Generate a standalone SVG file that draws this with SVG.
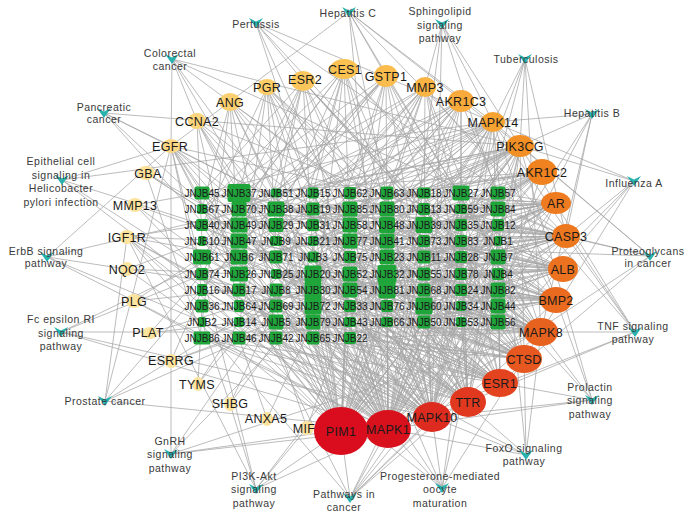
<svg xmlns="http://www.w3.org/2000/svg" xmlns:xlink="http://www.w3.org/1999/xlink" width="700" height="524" viewBox="0 0 700 524">
<style>
.e path{fill:none;stroke:#a6a6a6;stroke-width:0.75}
.c rect{fill:#1fa53a;rx:2px}
.c text{font-family:"Liberation Sans",Arial,sans-serif;font-size:10px;fill:#1a1a1a;text-anchor:middle}
.g text{font-family:"Liberation Sans",Arial,sans-serif;font-size:12.5px;fill:#1a1a1a;text-anchor:middle;letter-spacing:0.3px}
.p use{fill:#27b2ae}
.p text{font-family:"Liberation Sans",Arial,sans-serif;font-size:10.5px;fill:#3a3a3a;text-anchor:middle;letter-spacing:0.5px}
</style>
<defs><path id="v" d="M-7 -5L0 -1.5L7 -5L0 5Z"/></defs>
<rect width="700" height="524" fill="#fff"/>
<g id="connectors" class="e">
<path d="M341 431L202 193M341 431L276 193M341 431L350 193M341 431L424 193M341 431L498 193M341 431L239 209M341 431L313 209M341 431L387 209M341 431L461 209M341 431L202 225M341 431L276 225M341 431L350 225M341 431L424 225M341 431L498 225M341 431L239 241M341 431L313 241M341 431L387 241M341 431L461 241M341 431L202 257M341 431L276 257M341 431L350 257M341 431L424 257M341 431L498 257M341 431L239 274M341 431L313 274M341 431L387 274M341 431L461 274M341 431L202 290M341 431L276 290M341 431L424 290M341 431L498 290M341 431L239 306M341 431L313 306M341 431L387 306M341 431L461 306M341 431L202 322M341 431L350 322M341 431L424 322M341 431L239 338M341 431L313 338"/>
<path d="M388 429L239 193M388 429L313 193M388 429L387 193M388 429L461 193M388 429L202 209M388 429L276 209M388 429L350 209M388 429L424 209M388 429L498 209M388 429L239 225M388 429L313 225M388 429L387 225M388 429L461 225M388 429L202 241M388 429L276 241M388 429L350 241M388 429L424 241M388 429L498 241M388 429L239 257M388 429L313 257M388 429L387 257M388 429L461 257M388 429L202 274M388 429L276 274M388 429L350 274M388 429L424 274M388 429L498 274M388 429L239 290M388 429L313 290M388 429L387 290M388 429L461 290M388 429L202 306M388 429L276 306M388 429L350 306M388 429L424 306M388 429L498 306M388 429L239 322M388 429L313 322M388 429L387 322M388 429L461 322M388 429L202 338M388 429L276 338M388 429L350 338"/>
<path d="M432 417L202 193M432 417L313 193M432 417L461 193M432 417L276 209M432 417L424 209M432 417L239 225M432 417L387 225M432 417L498 225M432 417L202 241M432 417L350 241M432 417L461 241M432 417L276 257M432 417L424 257M432 417L239 274M432 417L387 274M432 417L498 274M432 417L202 290M432 417L350 290M432 417L461 290M432 417L276 306M432 417L424 306M432 417L239 322M432 417L387 322M432 417L498 322M432 417L276 338M432 417L387 193M432 417L350 209M432 417L313 257M432 417L202 274M432 417L461 274M432 417L313 290M432 417L202 338"/>
<path d="M468 402L239 193M468 402L350 193M468 402L498 193M468 402L202 209M468 402L313 209M468 402L461 209M468 402L276 225M468 402L424 225M468 402L239 241M468 402L387 241M468 402L498 241M468 402L202 257M468 402L350 257M468 402L461 257M468 402L313 274M468 402L424 274M468 402L239 290M468 402L387 290M468 402L498 290M468 402L313 306M468 402L461 306M468 402L202 322M468 402L350 322M468 402L461 322M468 402L202 338M468 402L424 193M468 402L387 225M468 402L276 274M468 402L424 322M468 402L313 338M468 402L239 209"/>
<path d="M500 383L276 193M500 383L387 193M500 383L239 209M500 383L350 209M500 383L498 209M500 383L202 225M500 383L313 225M500 383L461 225M500 383L276 241M500 383L424 241M500 383L239 257M500 383L387 257M500 383L498 257M500 383L202 274M500 383L350 274M500 383L276 290M500 383L424 290M500 383L313 306M500 383L498 306M500 383L276 322M500 383L424 322M500 383L313 338M500 383L461 193M500 383L202 241M500 383L350 290M500 383L461 290M500 383L239 306M500 383L387 322M500 383L202 338"/>
<path d="M524 359L313 193M524 359L424 193M524 359L276 209M524 359L387 209M524 359L239 225M524 359L350 225M524 359L498 225M524 359L313 241M524 359L461 241M524 359L239 257M524 359L424 257M524 359L276 274M524 359L461 274M524 359L313 290M524 359L498 290M524 359L350 306M524 359L239 322M524 359L461 322M524 359L350 338M524 359L202 193M524 359L350 209M524 359L424 225M524 359L276 257M524 359L387 274M524 359L202 306M524 359L424 322M524 359L276 338"/>
<path d="M541 332L350 193M541 332L461 193M541 332L313 209M541 332L424 209M541 332L276 225M541 332L387 225M541 332L202 241M541 332L350 241M541 332L276 257M541 332L461 257M541 332L313 274M541 332L498 274M541 332L239 290M541 332L387 290M541 332L424 306M541 332L313 322M541 332L498 322M541 332L239 193M541 332L387 209M541 332L202 257M541 332L424 274M541 332L276 306M541 332L461 306M541 332L350 338M541 332L239 322"/>
<path d="M556 300L387 193M556 300L498 193M556 300L350 209M556 300L461 209M556 300L313 225M556 300L424 225M556 300L239 241M556 300L387 241M556 300L313 257M556 300L498 257M556 300L350 274M556 300L202 290M556 300L424 290M556 300L276 306M556 300L387 322M556 300L239 338M556 300L239 193M556 300L313 209M556 300L202 241M556 300L461 241M556 300L276 274M556 300L350 290M556 300L461 322M556 300L313 338"/>
<path d="M563 269L424 193M563 269L276 193M563 269L387 209M563 269L498 209M563 269L350 225M563 269L461 225M563 269L276 241M563 269L424 241M563 269L350 257M563 269L239 274M563 269L461 274M563 269L313 290M563 269L461 306M563 269L350 322M563 269L202 306M563 269L202 193M563 269L313 209M563 269L239 225M563 269L387 257M563 269L498 241M563 269L276 290M563 269L424 322M563 269L239 338"/>
<path d="M566 236L461 193M566 236L313 193M566 236L424 209M566 236L202 209M566 236L387 225M566 236L498 225M566 236L313 241M566 236L461 241M566 236L387 257M566 236L276 274M566 236L424 274M566 236L350 290M566 236L239 306M566 236L424 322M566 236L202 193M566 236L276 209M566 236L239 241M566 236L350 257M566 236L498 290M566 236L313 322M566 236L276 338M566 236L387 274M566 236L461 306"/>
<path d="M556 203L498 193M556 203L350 193M556 203L461 209M556 203L239 209M556 203L424 225M556 203L276 225M556 203L350 241M556 203L498 241M556 203L424 257M556 203L313 274M556 203L461 290M556 203L387 306M556 203L276 322M556 203L202 225M556 203L387 193M556 203L313 241M556 203L239 257M556 203L424 290M556 203L498 322M556 203L350 306M556 203L202 338"/>
<path d="M542 172L387 193M542 172L239 193M542 172L498 209M542 172L313 209M542 172L461 225M542 172L202 225M542 172L424 241M542 172L387 257M542 172L461 274M542 172L350 290M542 172L498 306M542 172L313 338M542 172L276 225M542 172L350 241M542 172L202 274M542 172L424 306M542 172L239 322M542 172L276 290"/>
<path d="M520 146L424 193M520 146L276 193M520 146L350 209M520 146L461 225M520 146L239 225M520 146L387 241M520 146L498 257M520 146L313 257M520 146L424 274M520 146L276 290M520 146L461 306M520 146L350 322M520 146L202 209M520 146L313 241M520 146L239 274M520 146L387 306M520 146L276 338M520 146L498 322"/>
<path d="M493 122L461 193M493 122L313 193M493 122L387 209M493 122L239 209M493 122L424 225M493 122L350 241M493 122L498 274M493 122L276 257M493 122L387 290M493 122L424 306M493 122L202 193M493 122L276 241M493 122L461 257M493 122L239 306M493 122L350 322"/>
<path d="M461 101L498 193M461 101L350 193M461 101L424 209M461 101L276 209M461 101L313 225M461 101L461 241M461 101L239 241M461 101L387 257M461 101L350 290M461 101L461 322M461 101L202 225M461 101L313 274M461 101L424 290M461 101L276 322M461 101L239 338"/>
<path d="M425 87L387 193M425 87L239 193M425 87L461 209M425 87L313 209M425 87L350 225M425 87L424 241M425 87L276 257M425 87L498 274M425 87L313 306M425 87L202 241M425 87L461 290M425 87L350 322M425 87L239 274"/>
<path d="M386 76L424 193M386 76L276 193M386 76L350 209M386 76L202 209M386 76L461 225M386 76L387 241M386 76L239 274M386 76L313 290M386 76L424 306M386 76L239 225M386 76L498 257M386 76L202 290M386 76L350 338"/>
<path d="M344 69L313 193M344 69L461 193M344 69L239 209M344 69L387 209M344 69L276 225M344 69L350 241M344 69L498 241M344 69L202 257M344 69L387 290M344 69L202 209M344 69L424 257M344 69L276 306M344 69L313 322"/>
<path d="M303 81L202 193M303 81L350 193M303 81L276 209M303 81L424 209M303 81L239 241M303 81L313 257M303 81L461 257M303 81L350 306M303 81L387 241M303 81L202 274M303 81L498 290M303 81L239 322"/>
<path d="M267 87L239 193M267 87L387 193M267 87L202 225M267 87L313 225M267 87L276 241M267 87L424 257M267 87L239 290M267 87L350 209M267 87L461 274M267 87L313 338"/>
<path d="M230 102L276 193M230 102L202 209M230 102L350 225M230 102L239 257M230 102L313 274M230 102L202 322M230 102L424 241M230 102L276 306M230 102L387 322"/>
<path d="M197 121L239 193M197 121L313 209M197 121L202 241M197 121L276 274M197 121L350 290M197 121L461 225M197 121L239 306"/>
<path d="M171 146L202 193M171 146L276 225M171 146L239 241M171 146L202 290M171 146L313 306M171 146L387 257M171 146L276 338"/>
<path d="M146 173L202 209M146 173L239 225M146 173L276 257M146 173L202 338M135 205L202 193M135 205L239 241M135 205L202 274M135 205L276 306M127 237L202 225M127 237L239 257M127 237L202 306M127 237L276 322M127 269L202 241M127 269L239 274M127 269L202 322M134 301L202 257M134 301L239 290M134 301L202 338M150 333L202 274M150 333L239 306M150 333L239 322M171 361L202 290M171 361L239 338M171 361L276 322M198 384L202 306M198 384L276 290M198 384L239 322M230 404L202 322M230 404L276 306M230 404L313 290M267 419L239 338M267 419L313 322M307 428L276 338M307 428L350 306"/>
<path d="M172 59L171 146M172 59L388 429M172 59L432 417M172 59L541 332M172 59L520 146M172 59L566 236M172 59L197 121"/>
<path d="M256 23L388 429M256 23L432 417M256 23L541 332M256 23L493 122M256 23L566 236M256 23L303 81"/>
<path d="M349 12L171 146M349 12L388 429M349 12L432 417M349 12L541 332M349 12L520 146M349 12L566 236M349 12L493 122M349 12L386 76"/>
<path d="M442 24L388 429M442 24L432 417M442 24L541 332M442 24L520 146M442 24L493 122M442 24L425 87"/>
<path d="M525 59L388 429M525 59L432 417M525 59L541 332M525 59L493 122M525 59L566 236M525 59L520 146"/>
<path d="M592 114L388 429M592 114L432 417M592 114L541 332M592 114L566 236M592 114L520 146M592 114L493 122"/>
<path d="M634 181L388 429M634 181L432 417M634 181L541 332M634 181L493 122M634 181L520 146M634 181L566 236"/>
<path d="M650 256L388 429M650 256L493 122M650 256L520 146M650 256L566 236M650 256L500 383M650 256L171 146M650 256L127 237"/>
<path d="M635 332L388 429M635 332L432 417M635 332L541 332M635 332L493 122M635 332L566 236M635 332L520 146M635 332L425 87"/>
<path d="M592 400L388 429M592 400L432 417M592 400L541 332M592 400L493 122M592 400L520 146M592 400L500 383M592 400L303 81"/>
<path d="M526 455L388 429M526 455L432 417M526 455L541 332M526 455L493 122M526 455L520 146M526 455L171 146M526 455L127 237"/>
<path d="M442 488L388 429M442 488L432 417M442 488L541 332M442 488L493 122M442 488L520 146M442 488L127 237M442 488L267 87M442 488L197 121"/>
<path d="M350 498L388 429M350 498L432 417M350 498L541 332M350 498L520 146M350 498L566 236M350 498L171 146M350 498L127 237M350 498L556 203M350 498L556 300M350 498L341 431"/>
<path d="M256 489L171 146M256 489L127 237M256 489L388 429M256 489L520 146M256 489L341 431M256 489L230 404M256 489L307 428"/>
<path d="M171 454L171 146M171 454L388 429M171 454L432 417M171 454L541 332M171 454L493 122M171 454L425 87"/>
<path d="M105 401L556 203M105 401L171 146M105 401L127 237M105 401L388 429M105 401L520 146M105 401L386 76"/>
<path d="M61 332L388 429M61 332L432 417M61 332L541 332M61 332L493 122M61 332L520 146"/>
<path d="M47 257L171 146M47 257L388 429M47 257L432 417M47 257L541 332M47 257L520 146"/>
<path d="M62 180L171 146M62 180L388 429M62 180L432 417M62 180L541 332M62 180L493 122"/>
<path d="M104 113L171 146M104 113L388 429M104 113L432 417M104 113L541 332M104 113L520 146"/>
</g>
<g class="c">
<g id="JNJB45"><rect x="194.5" y="186.5" width="15" height="13"/><text x="202" y="196.6">JNJB45</text></g>
<g id="JNJB37"><rect x="227.5" y="184" width="23" height="18"/><text x="239" y="196.6">JNJB37</text></g>
<g id="JNJB51"><rect x="271" y="188.5" width="10" height="9"/><text x="276" y="196.6">JNJB51</text></g>
<g id="JNJB15"><rect x="307.5" y="187.5" width="11" height="11"/><text x="313" y="196.6">JNJB15</text></g>
<g id="JNJB62"><rect x="344" y="187" width="12" height="12"/><text x="350" y="196.6">JNJB62</text></g>
<g id="JNJB63"><rect x="380.5" y="186.5" width="13" height="13"/><text x="387" y="196.6">JNJB63</text></g>
<g id="JNJB18"><rect x="417.5" y="187.5" width="13" height="11"/><text x="424" y="196.6">JNJB18</text></g>
<g id="JNJB27"><rect x="452.5" y="185.5" width="17" height="15"/><text x="461" y="196.6">JNJB27</text></g>
<g id="JNJB57"><rect x="490.5" y="186.5" width="15" height="13"/><text x="498" y="196.6">JNJB57</text></g>
<g id="JNJB67"><rect x="197" y="204" width="10" height="10"/><text x="202" y="212.6">JNJB67</text></g>
<g id="JNJB70"><rect x="231.5" y="201.5" width="15" height="15"/><text x="239" y="212.6">JNJB70</text></g>
<g id="JNJB38"><rect x="267.5" y="201.5" width="17" height="15"/><text x="276" y="212.6">JNJB38</text></g>
<g id="JNJB19"><rect x="306.5" y="202.5" width="13" height="13"/><text x="313" y="212.6">JNJB19</text></g>
<g id="JNJB85"><rect x="342.5" y="201.5" width="15" height="15"/><text x="350" y="212.6">JNJB85</text></g>
<g id="JNJB80"><rect x="379.5" y="201.5" width="15" height="15"/><text x="387" y="212.6">JNJB80</text></g>
<g id="JNJB13"><rect x="418" y="203" width="12" height="12"/><text x="424" y="212.6">JNJB13</text></g>
<g id="JNJB59"><rect x="455" y="204" width="12" height="10"/><text x="461" y="212.6">JNJB59</text></g>
<g id="JNJB84"><rect x="490.5" y="201.5" width="15" height="15"/><text x="498" y="212.6">JNJB84</text></g>
<g id="JNJB40"><rect x="196" y="219" width="12" height="12"/><text x="202" y="228.6">JNJB40</text></g>
<g id="JNJB49"><rect x="230.5" y="217.5" width="17" height="15"/><text x="239" y="228.6">JNJB49</text></g>
<g id="JNJB29"><rect x="268.5" y="218" width="15" height="14"/><text x="276" y="228.6">JNJB29</text></g>
<g id="JNJB31"><rect x="307" y="219" width="12" height="12"/><text x="313" y="228.6">JNJB31</text></g>
<g id="JNJB58"><rect x="342.5" y="217.5" width="15" height="15"/><text x="350" y="228.6">JNJB58</text></g>
<g id="JNJB48"><rect x="379" y="217" width="16" height="16"/><text x="387" y="228.6">JNJB48</text></g>
<g id="JNJB39"><rect x="415.5" y="217" width="17" height="16"/><text x="424" y="228.6">JNJB39</text></g>
<g id="JNJB35"><rect x="455" y="219" width="12" height="12"/><text x="461" y="228.6">JNJB35</text></g>
<g id="JNJB12"><rect x="492" y="219" width="12" height="12"/><text x="498" y="228.6">JNJB12</text></g>
<g id="JNJB10"><rect x="198" y="236" width="8" height="10"/><text x="202" y="244.6">JNJB10</text></g>
<g id="JNJB47"><rect x="230.5" y="233.5" width="17" height="15"/><text x="239" y="244.6">JNJB47</text></g>
<g id="JNJB9"><rect x="270" y="236" width="12" height="10"/><text x="276" y="244.6">JNJB9</text></g>
<g id="JNJB21"><rect x="308" y="236" width="10" height="10"/><text x="313" y="244.6">JNJB21</text></g>
<g id="JNJB77"><rect x="342.5" y="233.5" width="15" height="15"/><text x="350" y="244.6">JNJB77</text></g>
<g id="JNJB41"><rect x="379.5" y="233.5" width="15" height="15"/><text x="387" y="244.6">JNJB41</text></g>
<g id="JNJB73"><rect x="418" y="235" width="12" height="12"/><text x="424" y="244.6">JNJB73</text></g>
<g id="JNJB83"><rect x="455" y="235" width="12" height="12"/><text x="461" y="244.6">JNJB83</text></g>
<g id="JNJB1"><rect x="494" y="236" width="8" height="10"/><text x="498" y="244.6">JNJB1</text></g>
<g id="JNJB61"><rect x="193" y="249.5" width="18" height="15"/><text x="202" y="260.6">JNJB61</text></g>
<g id="JNJB6"><rect x="230.5" y="249.5" width="17" height="15"/><text x="239" y="260.6">JNJB6</text></g>
<g id="JNJB71"><rect x="269.5" y="250.5" width="13" height="13"/><text x="276" y="260.6">JNJB71</text></g>
<g id="JNJB3"><rect x="307.5" y="251.5" width="11" height="11"/><text x="313" y="260.6">JNJB3</text></g>
<g id="JNJB75"><rect x="344" y="251" width="12" height="12"/><text x="350" y="260.6">JNJB75</text></g>
<g id="JNJB23"><rect x="379.5" y="249.5" width="15" height="15"/><text x="387" y="260.6">JNJB23</text></g>
<g id="JNJB11"><rect x="417.5" y="250.5" width="13" height="13"/><text x="424" y="260.6">JNJB11</text></g>
<g id="JNJB28"><rect x="455" y="251" width="12" height="12"/><text x="461" y="260.6">JNJB28</text></g>
<g id="JNJB7"><rect x="490.5" y="249.5" width="15" height="15"/><text x="498" y="260.6">JNJB7</text></g>
<g id="JNJB74"><rect x="196" y="268" width="12" height="12"/><text x="202" y="277.6">JNJB74</text></g>
<g id="JNJB26"><rect x="230" y="266.5" width="18" height="15"/><text x="239" y="277.6">JNJB26</text></g>
<g id="JNJB25"><rect x="271" y="269" width="10" height="10"/><text x="276" y="277.6">JNJB25</text></g>
<g id="JNJB20"><rect x="304.5" y="265.5" width="17" height="17"/><text x="313" y="277.6">JNJB20</text></g>
<g id="JNJB52"><rect x="342.5" y="266.5" width="15" height="15"/><text x="350" y="277.6">JNJB52</text></g>
<g id="JNJB32"><rect x="377.5" y="265" width="19" height="18"/><text x="387" y="277.6">JNJB32</text></g>
<g id="JNJB55"><rect x="417.5" y="267.5" width="13" height="13"/><text x="424" y="277.6">JNJB55</text></g>
<g id="JNJB78"><rect x="455" y="268" width="12" height="12"/><text x="461" y="277.6">JNJB78</text></g>
<g id="JNJB4"><rect x="492" y="268" width="12" height="12"/><text x="498" y="277.6">JNJB4</text></g>
<g id="JNJB16"><rect x="197" y="284" width="10" height="12"/><text x="202" y="293.6">JNJB16</text></g>
<g id="JNJB17"><rect x="232.5" y="283.5" width="13" height="13"/><text x="239" y="293.6">JNJB17</text></g>
<g id="JNJB8"><rect x="269.5" y="283.5" width="13" height="13"/><text x="276" y="293.6">JNJB8</text></g>
<g id="JNJB30"><rect x="304.5" y="281.5" width="17" height="17"/><text x="313" y="293.6">JNJB30</text></g>
<g id="JNJB54"><rect x="342.5" y="282.5" width="15" height="15"/><text x="350" y="293.6">JNJB54</text></g>
<g id="JNJB81"><rect x="378.5" y="281.5" width="17" height="17"/><text x="387" y="293.6">JNJB81</text></g>
<g id="JNJB68"><rect x="417.5" y="283.5" width="13" height="13"/><text x="424" y="293.6">JNJB68</text></g>
<g id="JNJB24"><rect x="455" y="284" width="12" height="12"/><text x="461" y="293.6">JNJB24</text></g>
<g id="JNJB82"><rect x="490.5" y="282.5" width="15" height="15"/><text x="498" y="293.6">JNJB82</text></g>
<g id="JNJB36"><rect x="195.5" y="299.5" width="13" height="13"/><text x="202" y="309.6">JNJB36</text></g>
<g id="JNJB64"><rect x="234" y="300" width="10" height="12"/><text x="239" y="309.6">JNJB64</text></g>
<g id="JNJB69"><rect x="269.5" y="299.5" width="13" height="13"/><text x="276" y="309.6">JNJB69</text></g>
<g id="JNJB72"><rect x="304.5" y="297.5" width="17" height="17"/><text x="313" y="309.6">JNJB72</text></g>
<g id="JNJB33"><rect x="344" y="300" width="12" height="12"/><text x="350" y="309.6">JNJB33</text></g>
<g id="JNJB76"><rect x="381" y="300" width="12" height="12"/><text x="387" y="309.6">JNJB76</text></g>
<g id="JNJB60"><rect x="415.5" y="297.5" width="17" height="17"/><text x="424" y="309.6">JNJB60</text></g>
<g id="JNJB34"><rect x="456" y="301" width="10" height="10"/><text x="461" y="309.6">JNJB34</text></g>
<g id="JNJB44"><rect x="490.5" y="298.5" width="15" height="15"/><text x="498" y="309.6">JNJB44</text></g>
<g id="JNJB2"><rect x="198" y="317" width="8" height="10"/><text x="202" y="325.6">JNJB2</text></g>
<g id="JNJB14"><rect x="234" y="317" width="10" height="10"/><text x="239" y="325.6">JNJB14</text></g>
<g id="JNJB5"><rect x="268.5" y="314.5" width="15" height="15"/><text x="276" y="325.6">JNJB5</text></g>
<g id="JNJB79"><rect x="305.5" y="314.5" width="15" height="15"/><text x="313" y="325.6">JNJB79</text></g>
<g id="JNJB43"><rect x="344" y="317" width="12" height="10"/><text x="350" y="325.6">JNJB43</text></g>
<g id="JNJB66"><rect x="381" y="317" width="12" height="10"/><text x="387" y="325.6">JNJB66</text></g>
<g id="JNJB50"><rect x="417.5" y="315.5" width="13" height="13"/><text x="424" y="325.6">JNJB50</text></g>
<g id="JNJB53"><rect x="456" y="317" width="10" height="10"/><text x="461" y="325.6">JNJB53</text></g>
<g id="JNJB56"><rect x="490.5" y="314.5" width="15" height="15"/><text x="498" y="325.6">JNJB56</text></g>
<g id="JNJB86"><rect x="193.5" y="331.5" width="17" height="13"/><text x="202" y="341.6">JNJB86</text></g>
<g id="JNJB46"><rect x="232.5" y="331.5" width="13" height="13"/><text x="239" y="341.6">JNJB46</text></g>
<g id="JNJB42"><rect x="269.5" y="331.5" width="13" height="13"/><text x="276" y="341.6">JNJB42</text></g>
<g id="JNJB65"><rect x="306.5" y="331.5" width="13" height="13"/><text x="313" y="341.6">JNJB65</text></g>
<g id="JNJB22"><rect x="344" y="332" width="12" height="12"/><text x="350" y="341.6">JNJB22</text></g>
</g>
<g class="g">
<g id="PIM1"><ellipse cx="341" cy="431" rx="27" ry="24" fill="#d90d1d"/><text x="341" y="435.5">PIM1</text></g>
<g id="MAPK1"><ellipse cx="388" cy="429" rx="23" ry="19" fill="#d9111d"/><text x="388" y="433.5">MAPK1</text></g>
<g id="MAPK10"><ellipse cx="432" cy="417" rx="19" ry="15" fill="#dd2c1f"/><text x="432" y="421.5">MAPK10</text></g>
<g id="TTR"><ellipse cx="468" cy="402" rx="18" ry="15" fill="#e1391f"/><text x="468" y="406.5">TTR</text></g>
<g id="ESR1"><ellipse cx="500" cy="383" rx="18" ry="14" fill="#e3441f"/><text x="500" y="387.5">ESR1</text></g>
<g id="CTSD"><ellipse cx="524" cy="359" rx="18" ry="14" fill="#e6581f"/><text x="524" y="363.5">CTSD</text></g>
<g id="MAPK8"><ellipse cx="541" cy="332" rx="17" ry="14" fill="#e8621f"/><text x="541" y="336.5">MAPK8</text></g>
<g id="BMP2"><ellipse cx="556" cy="300" rx="16" ry="13" fill="#ea6b1f"/><text x="556" y="304.5">BMP2</text></g>
<g id="ALB"><ellipse cx="563" cy="269" rx="15" ry="13" fill="#ec721f"/><text x="563" y="273.5">ALB</text></g>
<g id="CASP3"><ellipse cx="566" cy="236" rx="14" ry="12" fill="#ed771f"/><text x="566" y="240.5">CASP3</text></g>
<g id="AR"><ellipse cx="556" cy="203" rx="15" ry="11" fill="#ee7b1f"/><text x="556" y="207.5">AR</text></g>
<g id="AKR1C2"><ellipse cx="542" cy="172" rx="15" ry="13" fill="#f0821f"/><text x="542" y="176.5">AKR1C2</text></g>
<g id="PIK3CG"><ellipse cx="520" cy="146" rx="14" ry="11" fill="#f28f25"/><text x="520" y="150.5">PIK3CG</text></g>
<g id="MAPK14"><ellipse cx="493" cy="122" rx="12" ry="10" fill="#f6a332"/><text x="493" y="126.5">MAPK14</text></g>
<g id="AKR1C3"><ellipse cx="461" cy="101" rx="13" ry="11" fill="#f8ab3c"/><text x="461" y="105.5">AKR1C3</text></g>
<g id="MMP3"><ellipse cx="425" cy="87" rx="11" ry="10" fill="#f9b444"/><text x="425" y="91.5">MMP3</text></g>
<g id="GSTP1"><ellipse cx="386" cy="76" rx="12" ry="11" fill="#fabd4d"/><text x="386" y="80.5">GSTP1</text></g>
<g id="CES1"><ellipse cx="344" cy="69" rx="14" ry="10" fill="#fbc252"/><text x="345" y="73.5">CES1</text></g>
<g id="ESR2"><ellipse cx="303" cy="81" rx="12" ry="10" fill="#fbc65c"/><text x="305" y="83.5">ESR2</text></g>
<g id="PGR"><ellipse cx="267" cy="87" rx="10" ry="8" fill="#fccd68"/><text x="267" y="91.5">PGR</text></g>
<g id="ANG"><ellipse cx="230" cy="102" rx="11" ry="9" fill="#fcd070"/><text x="230" y="106.5">ANG</text></g>
<g id="CCNA2"><ellipse cx="197" cy="121" rx="9" ry="8" fill="#fcd57c"/><text x="197" y="125.5">CCNA2</text></g>
<g id="EGFR"><ellipse cx="171" cy="146" rx="9" ry="7" fill="#fdd884"/><text x="170" y="150.5">EGFR</text></g>
<g id="GBA"><ellipse cx="146" cy="173" rx="9" ry="7" fill="#fde196"/><text x="148" y="177.5">GBA</text></g>
<g id="MMP13"><ellipse cx="135" cy="205" rx="8" ry="7" fill="#fde49e"/><text x="135" y="209.5">MMP13</text></g>
<g id="IGF1R"><ellipse cx="127" cy="237" rx="8" ry="7" fill="#fde49e"/><text x="127" y="241.5">IGF1R</text></g>
<g id="NQO2"><ellipse cx="127" cy="269" rx="7" ry="7" fill="#fde49e"/><text x="127" y="273.5">NQO2</text></g>
<g id="PLG"><ellipse cx="134" cy="301" rx="8" ry="7" fill="#fde49e"/><text x="134" y="305.5">PLG</text></g>
<g id="PLAT"><ellipse cx="150" cy="333" rx="8" ry="6" fill="#fde49e"/><text x="148" y="337">PLAT</text></g>
<g id="ESRRG"><ellipse cx="171" cy="361" rx="7" ry="7" fill="#fde49e"/><text x="171" y="365">ESRRG</text></g>
<g id="TYMS"><ellipse cx="198" cy="384" rx="6" ry="7" fill="#fde49e"/><text x="197" y="388.5">TYMS</text></g>
<g id="SHBG"><ellipse cx="230" cy="404" rx="6" ry="7" fill="#fde49e"/><text x="230" y="408">SHBG</text></g>
<g id="ANXA5"><ellipse cx="267" cy="419" rx="6" ry="7" fill="#fde49e"/><text x="266" y="423">ANXA5</text></g>
<g id="MIF"><ellipse cx="307" cy="428" rx="7" ry="7" fill="#fde49e"/><text x="304" y="432.5">MIF</text></g>
</g>
<g class="p">
<g id="Pertussis"><use href="#v" x="256" y="23"/><text x="256" y="28">Pertussis</text></g>
<g id="HepatitisC"><use href="#v" x="349" y="12"/><text x="348" y="17">Hepatitis C</text></g>
<g id="Sphingolipid"><use href="#v" x="442" y="24"/><text x="440" y="15">Sphingolipid</text><text x="440" y="29">signaling</text><text x="440" y="42">pathway</text></g>
<g id="Tuberculosis"><use href="#v" x="525" y="59"/><text x="526" y="63">Tuberculosis</text></g>
<g id="HepatitisB"><use href="#v" x="592" y="114"/><text x="592" y="117">Hepatitis B</text></g>
<g id="InfluenzaA"><use href="#v" x="634" y="181"/><text x="634" y="187">Influenza A</text></g>
<g id="Proteoglycans"><use href="#v" x="650" y="256"/><text x="648" y="255">Proteoglycans</text><text x="648" y="267">in cancer</text></g>
<g id="TNF"><use href="#v" x="635" y="332"/><text x="633" y="330">TNF signaling</text><text x="633" y="343">pathway</text></g>
<g id="Prolactin"><use href="#v" x="592" y="400"/><text x="590" y="391">Prolactin</text><text x="590" y="404">signaling</text><text x="590" y="418">pathway</text></g>
<g id="FoxO"><use href="#v" x="526" y="455"/><text x="524" y="452">FoxO signaling</text><text x="524" y="465">pathway</text></g>
<g id="Progesterone"><use href="#v" x="442" y="488"/><text x="440" y="480">Progesterone-mediated</text><text x="440" y="493">oocyte</text><text x="440" y="507">maturation</text></g>
<g id="PathwaysInCancer"><use href="#v" x="350" y="498"/><text x="344" y="498">Pathways in</text><text x="344" y="511">cancer</text></g>
<g id="PI3KAkt"><use href="#v" x="256" y="489"/><text x="254" y="480">PI3K-Akt</text><text x="254" y="493">signaling</text><text x="254" y="507">pathway</text></g>
<g id="GnRH"><use href="#v" x="171" y="454"/><text x="170" y="445">GnRH</text><text x="170" y="458">signaling</text><text x="170" y="472">pathway</text></g>
<g id="Prostate"><use href="#v" x="105" y="401"/><text x="105" y="405">Prostate cancer</text></g>
<g id="FcEpsilon"><use href="#v" x="61" y="332"/><text x="61" y="323">Fc epsilon RI</text><text x="61" y="337">signaling</text><text x="61" y="350">pathway</text></g>
<g id="ErbB"><use href="#v" x="47" y="257"/><text x="46" y="255">ErbB signaling</text><text x="46" y="267">pathway</text></g>
<g id="Epithelial"><use href="#v" x="62" y="180"/><text x="61" y="165">Epithelial cell</text><text x="61" y="179">signaling in</text><text x="61" y="192">Helicobacter</text><text x="61" y="206">pylori infection</text></g>
<g id="Pancreatic"><use href="#v" x="104" y="113"/><text x="104" y="111">Pancreatic</text><text x="104" y="123">cancer</text></g>
<g id="Colorectal"><use href="#v" x="172" y="59"/><text x="170" y="57">Colorectal</text><text x="170" y="70">cancer</text></g>
</g>
</svg>
